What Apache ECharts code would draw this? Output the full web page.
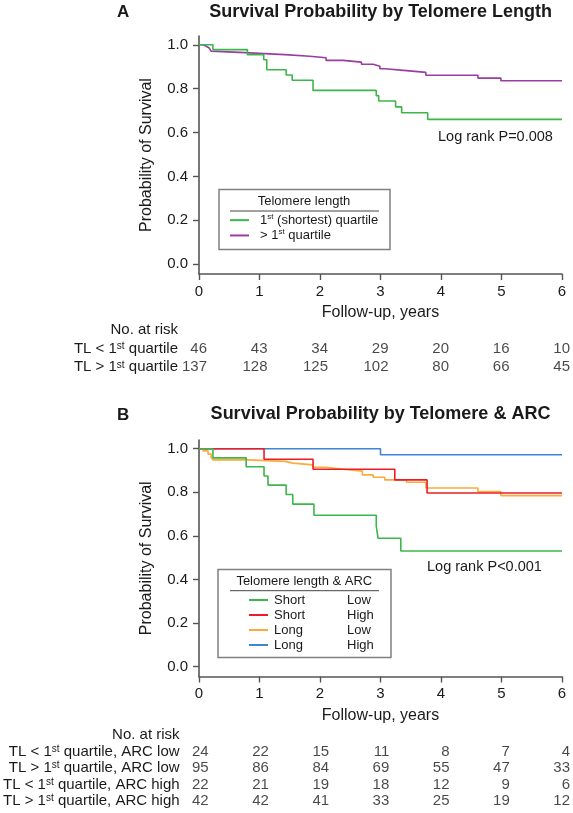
<!DOCTYPE html>
<html><head><meta charset="utf-8">
<script src="https://cdn.jsdelivr.net/npm/echarts@6/dist/echarts.min.js"></script>
<style>html,body{margin:0;padding:0;background:#fff;}#c{width:573px;height:813px;}</style>
</head><body><div id="c"></div>
<script>
// ---------- data ----------
const years = [0, 1, 2, 3, 4, 5, 6];
const yTicks = [0, 0.2, 0.4, 0.6, 0.8, 1.0];

// Panel A: Kaplan-Meier steps [year, survival]
const shortA = [[0,1.0],[0.23,0.978],[0.80,0.955],[1.07,0.932],[1.12,0.886],[1.44,0.862],[1.54,0.838],[1.885,0.792],[2.93,0.768],[2.97,0.744],[3.25,0.717],[3.35,0.69],[3.78,0.66],[6,0.66]];
const longA = [[0,1.0],[0.06,0.993],[0.12,0.985],[0.17,0.978],[0.2,0.971],[0.23,0.964],[0.755,0.955],[1.42,0.948],[1.83,0.941],[2.1,0.929],[2.38,0.921],[2.685,0.911],[2.88,0.902],[2.99,0.891],[3.07,0.882],[3.43,0.874],[3.75,0.861],[4.61,0.848],[4.99,0.836],[6,0.836]];

// Panel B
const shortLowB = [[0,1],[0.23,0.958],[0.78,0.917],[1.075,0.875],[1.14,0.833],[1.44,0.79],[1.55,0.746],[1.9,0.695],[2.93,0.645],[2.96,0.589],[3.335,0.531],[6,0.531]];
const shortHighB = [[0,1],[1.075,0.952],[1.885,0.906],[3.236,0.857],[3.77,0.797],[6,0.797]];
const longLowB = [[0,1],[0.07,0.99],[0.15,0.975],[0.2,0.96],[0.23,0.949],[0.8,0.942],[1.42,0.934],[1.55,0.926],[1.885,0.915],[2.1,0.906],[2.38,0.897],[2.7,0.88],[2.88,0.869],[3.07,0.857],[3.43,0.846],[3.75,0.82],[4.61,0.803],[4.99,0.785],[6,0.785]];
const longHighB = [[0,1],[3.0,0.972],[6,0.972]];

// Numbers at risk
const riskHeader = 'No. at risk';
const riskRowsA = ['TL < 1st quartile', 'TL > 1st quartile'];
const riskA1 = [46, 43, 34, 29, 20, 16, 10];
const riskA2 = [137, 128, 125, 102, 80, 66, 45];
const riskRowsB = ['TL < 1st quartile, ARC low', 'TL > 1st quartile, ARC low', 'TL < 1st quartile, ARC high', 'TL > 1st quartile, ARC high'];
const riskB1 = [24, 22, 15, 11, 8, 7, 4];
const riskB2 = [95, 86, 84, 69, 55, 47, 33];
const riskB3 = [22, 21, 19, 18, 12, 9, 6];
const riskB4 = [42, 42, 41, 33, 25, 19, 12];

const namesA = ['1st (shortest) quartile', '> 1st quartile'];
const namesB = ['Short Low', 'Short High', 'Long Low', 'Long High'];

// ---------- styling ----------
const FONT = 'Liberation Sans, Arial, Helvetica, sans-serif';
const TXT = '#1a1a1a';
const AX = '#555555';
const C = {green:'#3cb54a', purple:'#9a3ca0', red:'#ed1c24', orange:'#fbab3c', blue:'#3d86d6'};
const sup = (s) => s.replace(/1st/g, '1{s|st}');

function plotX(gi) {
  return {
    gridIndex: gi, type: 'value', min: 0, max: 6, interval: 1,
    axisLine: {onZero: false, lineStyle: {color: AX, width: 1.6}},
    axisTick: {length: 6, lineStyle: {color: AX, width: 1.4}},
    axisLabel: {margin: 10, fontSize: 15, color: TXT, fontFamily: FONT},
    splitLine: {show: false},
    name: 'Follow-up, years', nameLocation: 'middle', nameGap: 31,
    nameTextStyle: {fontSize: 16, color: TXT, fontFamily: FONT}
  };
}
function plotY(gi) {
  return {
    gridIndex: gi, type: 'value', min: -0.045, max: 1.04,
    axisLine: {show: true, lineStyle: {color: AX, width: 1.6}},
    axisTick: {show: true, length: 6, customValues: yTicks, lineStyle: {color: AX, width: 1.4}},
    axisLabel: {margin: 11, fontSize: 15, color: TXT, fontFamily: FONT, customValues: yTicks,
      formatter: v => v.toFixed(1)},
    splitLine: {show: false},
    name: 'Probability of Survival', nameLocation: 'middle', nameGap: 44,
    nameTextStyle: {fontSize: 16, color: TXT, fontFamily: FONT}
  };
}
function riskX(gi) {
  return {gridIndex: gi, type: 'value', min: 0, max: 6, show: false};
}
function riskY(gi, rows) {
  return {
    gridIndex: gi, type: 'category', inverse: true, data: [riskHeader].concat(rows),
    axisLine: {show: false}, axisTick: {show: false}, splitLine: {show: false},
    axisLabel: {interval: 0, hideOverlap: false, margin: 21, fontSize: 15, color: TXT, fontFamily: FONT, formatter: v => sup(v),
      rich: {s: {fontSize: 10, verticalAlign: 'top', color: TXT, fontFamily: FONT}}}
  };
}
function km(name, data, color, axis) {
  return {name, type: 'line', step: 'end', data, xAxisIndex: axis, yAxisIndex: axis,
    symbol: 'none', silent: true, lineStyle: {color, width: 1.6}, itemStyle: {color}, z: 3};
}
function risk(row, vals, axis) {
  return {type: 'scatter', xAxisIndex: axis, yAxisIndex: axis, symbolSize: 1, silent: true,
    itemStyle: {color: 'rgba(0,0,0,0)'},
    data: years.map((y, i) => [y, row, vals[i]]),
    label: {show: true, position: 'inside', align: 'right', offset: [8, 0],
      formatter: p => String(p.value[2]), fontSize: 15, color: TXT, fontFamily: FONT}};
}

const legendText = {fontSize: 13, color: TXT, fontFamily: FONT};

const option = {
  animation: false,
  backgroundColor: '#fff',
  textStyle: {fontFamily: FONT},
  title: [
    {text: 'A', left: 117, top: 4, padding: 0, textStyle: {fontSize: 17, fontWeight: 'bold', color: TXT, fontFamily: FONT}},
    {text: 'Survival Probability by Telomere Length', left: 380.5, top: 3.5, textAlign: 'center', padding: 0,
      textStyle: {fontSize: 18, fontWeight: 'bold', color: TXT, fontFamily: FONT}},
    {text: 'B', left: 117, top: 406.5, padding: 0, textStyle: {fontSize: 17, fontWeight: 'bold', color: TXT, fontFamily: FONT}},
    {text: 'Survival Probability by Telomere & ARC', left: 380.5, top: 405.5, textAlign: 'center', padding: 0,
      textStyle: {fontSize: 18, fontWeight: 'bold', color: TXT, fontFamily: FONT}}
  ],
  grid: [
    {left: 199, top: 36, width: 363, height: 238},
    {left: 199, top: 440, width: 363, height: 236.5},
    {left: 199, top: 321, width: 363, height: 55.5},
    {left: 199, top: 726.8, width: 363, height: 82.3}
  ],
  xAxis: [plotX(0), plotX(1), riskX(2), riskX(3)],
  yAxis: [plotY(0), plotY(1), riskY(2, riskRowsA), riskY(3, riskRowsB)],
  legend: [
    {data: namesA, orient: 'vertical', left: 230, top: 212.5, padding: 0, itemGap: 0,
      icon: 'rect', itemWidth: 19, itemHeight: 2, selectedMode: false,
      formatter: n => sup(n),
      textStyle: Object.assign({lineHeight: 15.3, padding: [0, 0, 0, 6],
        rich: {s: {fontSize: 8, verticalAlign: 'top', color: TXT, fontFamily: FONT}}}, legendText)},
    {data: namesB, orient: 'vertical', left: 249, top: 592.5, padding: 0, itemGap: 0,
      icon: 'rect', itemWidth: 19, itemHeight: 2, selectedMode: false,
      formatter: n => { const p = n.split(' '); return '{a|' + p[0] + '}{b|' + p[1] + '}'; },
      textStyle: Object.assign({lineHeight: 15, padding: [0, 0, 0, 1],
        rich: {a: {width: 73, fontSize: 13, color: TXT, fontFamily: FONT},
               b: {fontSize: 13, color: TXT, fontFamily: FONT}}}, legendText)}
  ],
  graphic: [
    {type: 'rect', shape: {x: 219, y: 189.5, width: 171, height: 60}, style: {fill: 'none', stroke: '#808080', lineWidth: 1.5}, silent: true},
    {type: 'text', style: {text: 'Telomere length', x: 304, y: 201, align: 'center', verticalAlign: 'middle', font: '13px ' + FONT, fill: TXT}, silent: true},
    {type: 'line', shape: {x1: 230, y1: 211, x2: 379, y2: 211}, style: {stroke: '#444', lineWidth: 1}, silent: true},
    {type: 'rect', shape: {x: 218, y: 569.5, width: 173, height: 88}, style: {fill: 'none', stroke: '#808080', lineWidth: 1.5}, silent: true},
    {type: 'text', style: {text: 'Telomere length & ARC', x: 304.3, y: 581, align: 'center', verticalAlign: 'middle', font: '13px ' + FONT, fill: TXT}, silent: true},
    {type: 'line', shape: {x1: 230, y1: 590.7, x2: 379, y2: 590.7}, style: {stroke: '#444', lineWidth: 1}, silent: true},
    {type: 'text', style: {text: 'Log rank P=0.008', x: 438, y: 137, verticalAlign: 'middle', font: '14.5px ' + FONT, fill: TXT}, silent: true},
    {type: 'text', style: {text: 'Log rank P<0.001', x: 427, y: 566.7, verticalAlign: 'middle', font: '14.5px ' + FONT, fill: TXT}, silent: true}
  ],
  series: [
    km(namesA[1], longA, C.purple, 0),
    km(namesA[0], shortA, C.green, 0),
    km(namesB[3], longHighB, C.blue, 1),
    km(namesB[2], longLowB, C.orange, 1),
    km(namesB[1], shortHighB, C.red, 1),
    km(namesB[0], shortLowB, C.green, 1),
    risk(riskRowsA[0], riskA1, 2),
    risk(riskRowsA[1], riskA2, 2),
    risk(riskRowsB[0], riskB1, 3),
    risk(riskRowsB[1], riskB2, 3),
    risk(riskRowsB[2], riskB3, 3),
    risk(riskRowsB[3], riskB4, 3)
  ]
};
const chart = echarts.init(document.getElementById('c'), null, {renderer: 'canvas'});
chart.setOption(option);
</script></body></html>
